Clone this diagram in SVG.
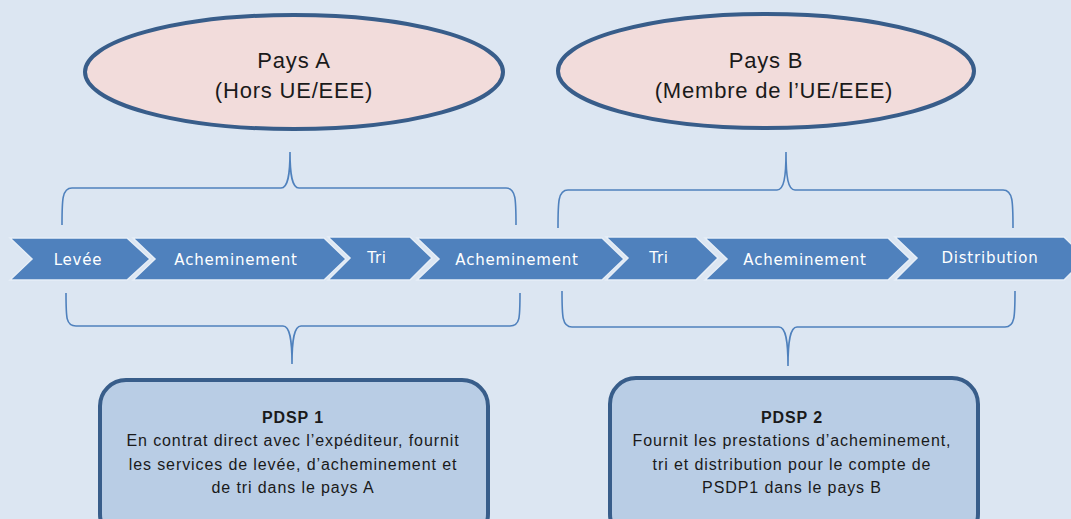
<svg xmlns="http://www.w3.org/2000/svg" width="1071" height="519" viewBox="0 0 1071 519">
<style>
.ell{fill:#F2DCDB;stroke:#385D8A;stroke-width:4}
.ellt{font-family:"Liberation Sans",Arial,sans-serif;font-size:22px;letter-spacing:0.8px;fill:#1a1a1a;text-anchor:middle}
.chev{fill:#4F81BD;stroke:#E6EEF7;stroke-width:1.5}
.chevt{font-family:"DejaVu Sans",Verdana,sans-serif;font-size:15px;letter-spacing:0.8px;fill:#ffffff;text-anchor:middle}
.brace{fill:none;stroke:#4F81BD;stroke-width:1.6}
.box{fill:#B9CDE5;stroke:#385D8A;stroke-width:4}
.boxt{font-family:"Liberation Sans",Arial,sans-serif;font-size:16px;letter-spacing:0.9px;fill:#1a1a1a;text-anchor:middle}
.bold{font-weight:bold}
</style>
<rect x="0" y="0" width="1071" height="519" fill="#DCE6F2"/>
<g id="paysA">
<ellipse class="ell" cx="294" cy="72" rx="209" ry="57"/>
<text class="ellt" x="294" y="68">Pays A</text>
<text class="ellt" x="294" y="98">(Hors UE/EEE)</text>
</g>
<g id="paysB">
<ellipse class="ell" cx="766" cy="71" rx="208" ry="57"/>
<text class="ellt" x="766" y="68">Pays B</text>
<text class="ellt" x="774" y="98">(Membre de l’UE/EEE)</text>
</g>
<g id="chain">
<polygon class="chev" points="10,238 127,238 150,259 127,280 10,280 32,259"/>
<text class="chevt" x="78" y="265">Levée</text>
<polygon class="chev" points="133,238 324,238 346,259 324,280 133,280 155,259"/>
<text class="chevt" x="236" y="265">Acheminement</text>
<polygon class="chev" points="328,237 410,237 432,258 410,280 328,280 350,258"/>
<text class="chevt" x="377" y="263">Tri</text>
<polygon class="chev" points="417,238 602,238 624,259 602,280 417,280 439,259"/>
<text class="chevt" x="517" y="265">Acheminement</text>
<polygon class="chev" points="606,237 696,237 718,258 696,280 606,280 628,258"/>
<text class="chevt" x="659" y="263">Tri</text>
<polygon class="chev" points="705,238 888,238 910,259 888,280 705,280 727,259"/>
<text class="chevt" x="805" y="265">Acheminement</text>
<polygon class="chev" points="895,237 1064,237 1086,258 1064,280 895,280 917,258"/>
<text class="chevt" x="990" y="263">Distribution</text>
</g>
<g id="connectors">
<path class="brace" d="M62,225 C62,200 62,188 72,188 L281,188 C288,188 290,175 290,152 C290,175 292,188 299,188 L506,188 C516,188 516,200 516,225"/>
<path class="brace" d="M66,293 C66,318 66,326 76,326 L283,326 C290,326 292,340 292,364 C292,340 294,326 301,326 L510,326 C520,326 520,318 520,293"/>
<path class="brace" d="M558,228 C558,202 558,190 568,190 L777,190 C784,190 786,177 786,152 C786,177 788,190 795,190 L1003,190 C1013,190 1013,202 1013,228"/>
<path class="brace" d="M562,291 C562,316 562,327 572,327 L779,327 C786,327 788,342 788,366 C788,342 790,327 797,327 L1005,327 C1015,327 1015,316 1015,291"/>
</g>
<g id="pdsp1">
<rect class="box" x="100" y="380" width="388" height="160" rx="26"/>
<text class="boxt bold" x="293" y="423">PDSP 1</text>
<text class="boxt" x="293" y="446">En contrat direct avec l’expéditeur, fournit</text>
<text class="boxt" x="293" y="470">les services de levée, d’acheminement et</text>
<text class="boxt" x="293" y="493">de tri dans le pays A</text>
</g>
<g id="pdsp2">
<rect class="box" x="610" y="378" width="368" height="162" rx="26"/>
<text class="boxt bold" x="792" y="423">PDSP 2</text>
<text class="boxt" x="792" y="446">Fournit les prestations d’acheminement,</text>
<text class="boxt" x="792" y="470">tri et distribution pour le compte de</text>
<text class="boxt" x="792" y="493">PSDP1 dans le pays B</text>
</g>
</svg>
